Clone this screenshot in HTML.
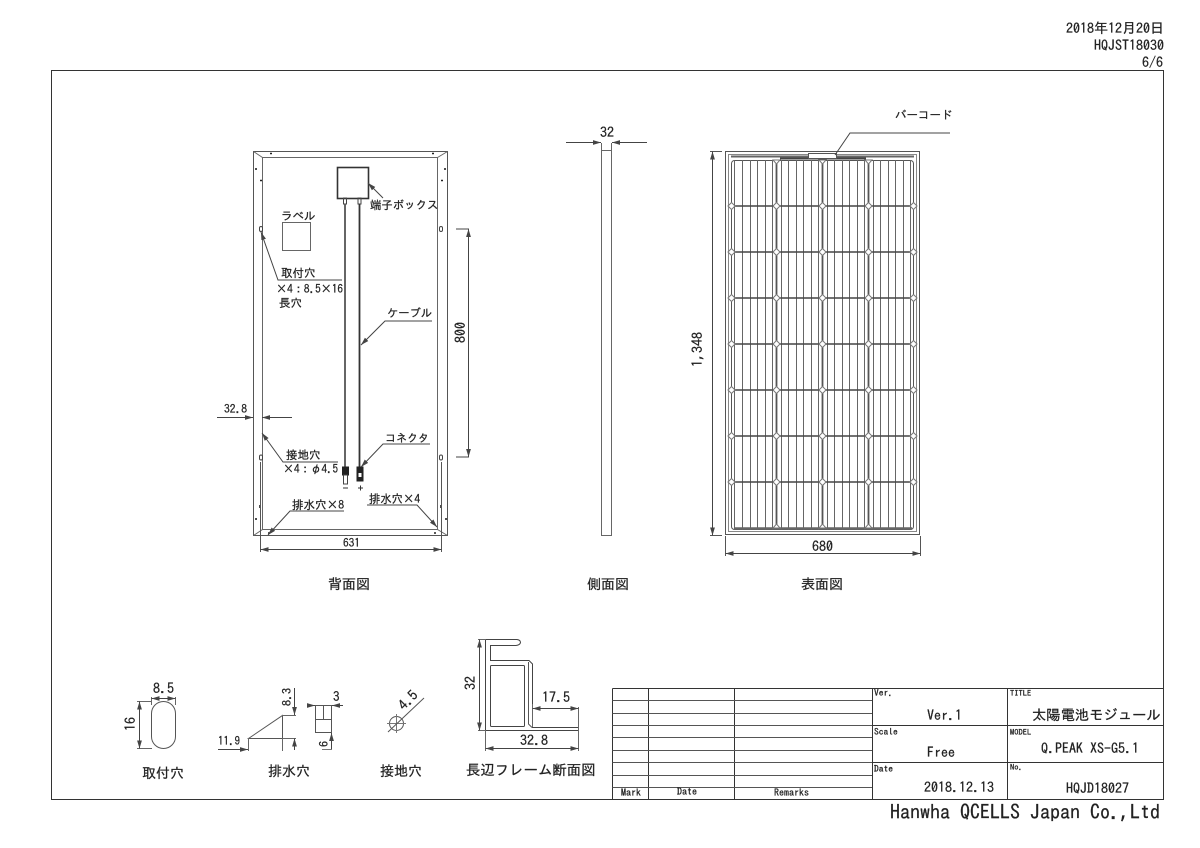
<!DOCTYPE html>
<html><head><meta charset="utf-8"><style>
html,body{margin:0;padding:0;background:#fff}
svg{display:block;filter:blur(.3px)}
text{font-family:"IPAGothic","Liberation Sans","Noto Sans CJK JP",sans-serif;fill:#222;font-size:12px;stroke:#222;stroke-width:.25px}
.f{font-size:14px}.s{font-size:9.5px}
</style></head><body>
<svg width="1200" height="848" viewBox="0 0 1200 848" fill="none" stroke="#444" stroke-width="1">
<defs>
<marker id="a" viewBox="0 0 10 6" refX="10" refY="3" markerWidth="8" markerHeight="5" orient="auto-start-reverse" markerUnits="userSpaceOnUse"><path d="M0 0L10 3L0 6z" fill="#444" stroke="none"/></marker>
<g id="diam"><path d="M0-3.5L3.5 0L0 3.5L-3.5 0z" fill="#fff" stroke="#777"/></g>
</defs>
<!-- header -->
<g stroke="none">
<text x="1066" y="33" class="f">2018年12月20日</text>
<text x="1094" y="50" class="f">HQJST18030</text>
<text x="1142" y="67" class="f">6/6</text>
</g>
<rect x="51.5" y="70.5" width="1112" height="729" stroke="#333"/>

<!-- back view -->
<rect x="253.5" y="151.5" width="194" height="384" stroke="#555"/>
<rect x="262.5" y="157.5" width="175" height="372" stroke="#666"/>
<path d="M253.5 151.5L262.5 157.5M447.5 151.5L437.5 157.5M253.5 535.5L262.5 529.5M447.5 535.5L437.5 529.5" stroke="#666"/>
<path d="M270 153.5h2M432 153.5h2M256 168v2M445 168v2M260 180.5h2M441 180.5h2M256 518v2M446 518v2M260 505v3M441 505v3M268 533h2M434 533h2" stroke="#222" stroke-width="1.6"/>
<rect x="259.5" y="226.5" width="3" height="5" rx="1.5"/><rect x="439.5" y="226.5" width="3" height="5" rx="1.5"/>
<rect x="259.5" y="455" width="3" height="5" rx="1.5"/><rect x="439.5" y="455" width="3" height="5" rx="1.5"/>
<rect x="337.5" y="167.5" width="31" height="31" stroke="#333" stroke-width="1.6"/>
<rect x="343.5" y="198" width="3" height="6"/><rect x="358" y="198" width="3" height="6"/>
<path d="M345 204V467" stroke="#555" stroke-width="1.8"/><path d="M359.500 204V467" stroke="#333" stroke-width="1.8"/>
<rect x="342.500" y="467" width="6" height="8" fill="#222" stroke="#222"/><rect x="343.500" y="475" width="4" height="9" fill="#fff"/>
<rect x="357" y="467" width="6" height="14" fill="#222" stroke="#222"/><rect x="358.500" y="473" width="3" height="4" fill="#fff" stroke="none"/>
<path d="M343 488h5M358 488h5M360.500 485.500v5" stroke="#333"/>
<rect x="282.500" y="222.500" width="28" height="28" stroke="#666"/>
<g stroke="none">
<text x="281" y="220" style="font-size:11.5px">ラベル</text>
<text x="370" y="209" style="font-size:11.4px">端子ボックス</text>
<text x="281" y="277" style="font-size:11.5px">取付穴</text>
<text x="276" y="293" style="font-size:12px" textLength="67" lengthAdjust="spacingAndGlyphs">×4：8.5×16</text>
<text x="279" y="307" style="font-size:11.500px">長穴</text>
<text x="387" y="317" style="font-size:11.300px">ケーブル</text>
<text x="286" y="459" style="font-size:11.500px">接地穴</text>
<text x="283" y="473" style="font-size:12px" textLength="55" lengthAdjust="spacingAndGlyphs">×4：φ4.5</text>
<text x="385" y="442" style="font-size:11px">コネクタ</text>
<text x="292" y="509" style="font-size:12px" textLength="52" lengthAdjust="spacingAndGlyphs">排水穴×8</text>
<text x="369" y="503" style="font-size:12px" textLength="51" lengthAdjust="spacingAndGlyphs">排水穴×4</text>
<text x="224" y="413" style="font-size:12px" textLength="23" lengthAdjust="spacingAndGlyphs">32.8</text>
<text x="343" y="547" style="font-size:12px" textLength="17" lengthAdjust="spacingAndGlyphs">631</text>
<text transform="translate(465 343) rotate(-90)" class="f">800</text>
</g>
<path d="M383 198L368 183" marker-end="url(#a)"/>
<path d="M342 280H278L261 232" marker-end="url(#a)"/>
<path d="M432 321H385L361 345" marker-end="url(#a)"/>
<path d="M338 462H283L262 433" marker-end="url(#a)"/>
<path d="M430 444H383L361 467" marker-end="url(#a)"/>
<path d="M344 511H290L268 535" marker-end="url(#a)"/>
<path d="M367 505H417L437 527" marker-end="url(#a)"/>
<path d="M456 229H469M456 457H469"/>
<path d="M468.500 229V457" marker-start="url(#a)" marker-end="url(#a)"/>
<path d="M217 417.500H253" marker-end="url(#a)"/><path d="M292 417.500H262" marker-end="url(#a)"/>
<path d="M260.500 462V552M441.500 462V552" stroke="#555"/>
<path d="M260.500 549.500H441.500" marker-start="url(#a)" marker-end="url(#a)"/>

<!-- side view -->
<rect x="601.500" y="150.500" width="10" height="385" stroke="#666"/>
<path d="M601.500 143V150M611.500 143V150" stroke="#666"/>
<path d="M566 142.500H601" marker-end="url(#a)"/><path d="M647 142.500H612" marker-end="url(#a)"/>
<text x="600" y="137" class="f" stroke="none">32</text>

<!-- front view -->
<rect x="725.500" y="151.500" width="194" height="383" stroke="#555"/>
<rect x="728.500" y="154.500" width="188" height="377" stroke="#888"/>
<path d="M731 156.500H914" stroke="#666" stroke-width="2"/>
<path d="M780 158.500H866" stroke="#444" stroke-width="2"/>
<rect x="808.500" y="153.500" width="28" height="5" fill="#fff" stroke="#555"/>
<rect x="731.500" y="160.500" width="182" height="369" rx="3" stroke="#555"/>
<path d="M734.500 160V530M742.500 160V530M750.500 160V530M757.500 160V530M765.500 160V530M772.500 160V530M781.500 160V530M788.500 160V530M796.500 160V530M803.500 160V530M811.500 160V530M818.500 160V530M827.500 160V530M834.500 160V530M842.500 160V530M849.500 160V530M857.500 160V530M864.500 160V530M873.500 160V530M880.500 160V530M888.500 160V530M895.500 160V530M903.500 160V530M910.500 160V530" stroke="#666"/>
<path d="M776.500 160V530M822.500 160V530M868.500 160V530" stroke="#555" stroke-width="1.800"/>
<path d="M731 206H913M731 252H913M731 298H913M731 344H913M731 390H913M731 436H913M731 482H913" stroke="#444" stroke-width="1.600"/>
<path d="M734 528.500H912" stroke="#666" stroke-width="2.500"/>
<g>
<use href="#diam" x="776.500" y="206"/><use href="#diam" x="822.500" y="206"/><use href="#diam" x="868.500" y="206"/><use href="#diam" x="731.500" y="206"/><use href="#diam" x="913.500" y="206"/>
<use href="#diam" x="776.500" y="252"/><use href="#diam" x="822.500" y="252"/><use href="#diam" x="868.500" y="252"/><use href="#diam" x="731.500" y="252"/><use href="#diam" x="913.500" y="252"/>
<use href="#diam" x="776.500" y="298"/><use href="#diam" x="822.500" y="298"/><use href="#diam" x="868.500" y="298"/><use href="#diam" x="731.500" y="298"/><use href="#diam" x="913.500" y="298"/>
<use href="#diam" x="776.500" y="344"/><use href="#diam" x="822.500" y="344"/><use href="#diam" x="868.500" y="344"/><use href="#diam" x="731.500" y="344"/><use href="#diam" x="913.500" y="344"/>
<use href="#diam" x="776.500" y="390"/><use href="#diam" x="822.500" y="390"/><use href="#diam" x="868.500" y="390"/><use href="#diam" x="731.500" y="390"/><use href="#diam" x="913.500" y="390"/>
<use href="#diam" x="776.500" y="436"/><use href="#diam" x="822.500" y="436"/><use href="#diam" x="868.500" y="436"/><use href="#diam" x="731.500" y="436"/><use href="#diam" x="913.500" y="436"/>
<use href="#diam" x="776.500" y="482"/><use href="#diam" x="822.500" y="482"/><use href="#diam" x="868.500" y="482"/><use href="#diam" x="731.500" y="482"/><use href="#diam" x="913.500" y="482"/>
<path d="M773 160H780L776.500 164zM819 160H826L822.500 164zM865 160H872L868.500 164zM773 528H780L776.500 524zM819 528H826L822.500 524zM865 528H872L868.500 524z" fill="#fff" stroke="#777"/>
</g>
<path d="M950 133H850L835 155"/>
<text x="895" y="119" stroke="none" style="font-size:11.500px">バーコード</text>
<path d="M710 151.500H722M710 535.500H722" stroke="#555"/>
<path d="M712.500 151.500V535.500" marker-start="url(#a)" marker-end="url(#a)"/>
<text transform="translate(702 367) rotate(-90)" class="f" stroke="none">1,348</text>
<path d="M725.500 536V556M920.500 536V556" stroke="#555"/>
<path d="M725.500 553.500H920.500" marker-start="url(#a)" marker-end="url(#a)"/>
<text x="812" y="551" class="f" stroke="none">680</text>

<g stroke="none">
<text x="328" y="589" class="f">背面図</text>
<text x="587" y="589" class="f">側面図</text>
<text x="801" y="589" class="f">表面図</text>
<text x="142" y="778" class="f">取付穴</text>
<text x="268" y="776" class="f">排水穴</text>
<text x="380" y="776" class="f">接地穴</text>
<text x="466" y="775" style="font-size:14.400px">長辺フレーム断面図</text>
</g>

<!-- hole detail -->
<rect x="151.500" y="701.500" width="24" height="47" rx="12" stroke="#555"/>
<path d="M151.500 697V705M175.500 697V705" stroke="#666"/>
<path d="M151.500 698.500H175.500" marker-start="url(#a)" marker-end="url(#a)"/>
<path d="M137 701.500H152M137 748.500H152" stroke="#666"/>
<path d="M139.500 701.500V748.500" marker-start="url(#a)" marker-end="url(#a)"/>
<g stroke="none">
<text x="153" y="693" class="f">8.5</text>
<text transform="translate(135 731) rotate(-90)" class="f">16</text>
</g>
<!-- drain detail -->
<path d="M248.500 738.500L282.500 715.500V738.500z" stroke="#555"/>
<path d="M248.500 738V751M282.500 738V751M282 715.500H296M282 738.500H296" stroke="#666"/>
<path d="M218 749.500H248" marker-end="url(#a)"/>
<path d="M294.500 688V715" marker-end="url(#a)"/><path d="M294.500 750V738.500" marker-end="url(#a)"/>
<rect x="315.500" y="705.500" width="16" height="27" stroke="#555"/>
<path d="M323.500 705.500V719.500M315.500 719.500H331.500" stroke="#555"/>
<path d="M343 705.500H332" marker-end="url(#a)"/><path d="M310 705.500H315" marker-end="url(#a)"/>
<path d="M331.500 750V733" marker-end="url(#a)"/>
<path d="M322 749.500H332" stroke="#777"/>
<g stroke="none">
<text x="218" y="745" style="font-size:12px" textLength="22" lengthAdjust="spacingAndGlyphs">11.9</text>
<text transform="translate(291 706) rotate(-90)" style="font-size:12px">8.3</text>
<text x="333" y="701" style="font-size:13px">3</text>
<text transform="translate(328 747) rotate(-90)" style="font-size:12px">6</text>
</g>
<!-- ground hole -->
<circle cx="396.500" cy="723.500" r="7" stroke="#555"/>
<path d="M387 723.500H406M396.500 714V733" stroke="#777"/>
<path d="M388 732L424 698" stroke="#555"/>
<text transform="translate(404 711) rotate(-45)" class="f" stroke="none">4.5</text>
<!-- frame section -->
<path d="M485.500 639.500H517Q520.500 640 520.500 642.500Q520 645 516 645.500H490.500V660.500H529L532.500 664V727.500H578.500V730.500H485.500z" stroke="#444"/>
<rect x="490.500" y="665.500" width="34" height="61" rx="1" stroke="#444"/>
<path d="M528.500 662V724L532 727.500" stroke="#555"/>
<path d="M478 639.500H486M478 730.500H486M485.500 731V751M578.500 707V751M532.500 704V727" stroke="#666"/>
<path d="M479.500 639.500V730.500" marker-start="url(#a)" marker-end="url(#a)"/>
<path d="M532.500 708.500H578.500" marker-start="url(#a)" marker-end="url(#a)"/>
<path d="M485.500 748.500H578.500" marker-start="url(#a)" marker-end="url(#a)"/>
<g stroke="none">
<text transform="translate(475 690) rotate(-90)" class="f">32</text>
<text x="542" y="702" class="f">17.5</text>
<text x="520" y="745" class="f">32.8</text>
</g>
<!-- title block -->
<path d="M612.500 688.500H1163M612.500 688.500V799M648.500 688.500V799M734.500 688.500V799M872.500 688.500V799M1007.500 688.500V799" stroke="#333"/>
<path d="M612.500 700.500H872M612.500 713.500H872M612.500 725.500H872M612.500 737.500H872M612.500 750.500H872M612.500 762.500H872M612.500 775.500H872M612.500 787.500H872" stroke="#555"/>
<path d="M872.500 725.500H1163M872.500 762.500H1163" stroke="#333"/>
<g stroke="none">
<text x="621" y="796" style="font-size:10px">Mark</text>
<text x="677" y="795" style="font-size:10px">Date</text>
<text x="774" y="796" style="font-size:10px">Remarks</text>
<text x="874" y="696" class="s">Ver.</text>
<text x="874" y="735" class="s">Scale</text>
<text x="874" y="772" class="s">Date</text>
<text x="1010" y="696" style="font-size:8.500px">TITLE</text>
<text x="1010" y="735" style="font-size:8.500px">MODEL</text>
<text x="1010" y="770" style="font-size:8.500px">No.</text>
<text x="927" y="720" class="f">Ver.1</text>
<text x="927" y="757" class="f">Free</text>
<text x="924" y="792" class="f">2018.12.13</text>
<text x="1032" y="720" style="font-size:14.300px">太陽電池モジュール</text>
<text x="1041" y="753" class="f">Q.PEAK XS-G5.1</text>
<text x="1066" y="793" class="f">HQJD18027</text>
<text x="890" y="819" style="font-size:20px">Hanwha QCELLS Japan Co.,Ltd</text>
</g>
</svg>
</body></html>
